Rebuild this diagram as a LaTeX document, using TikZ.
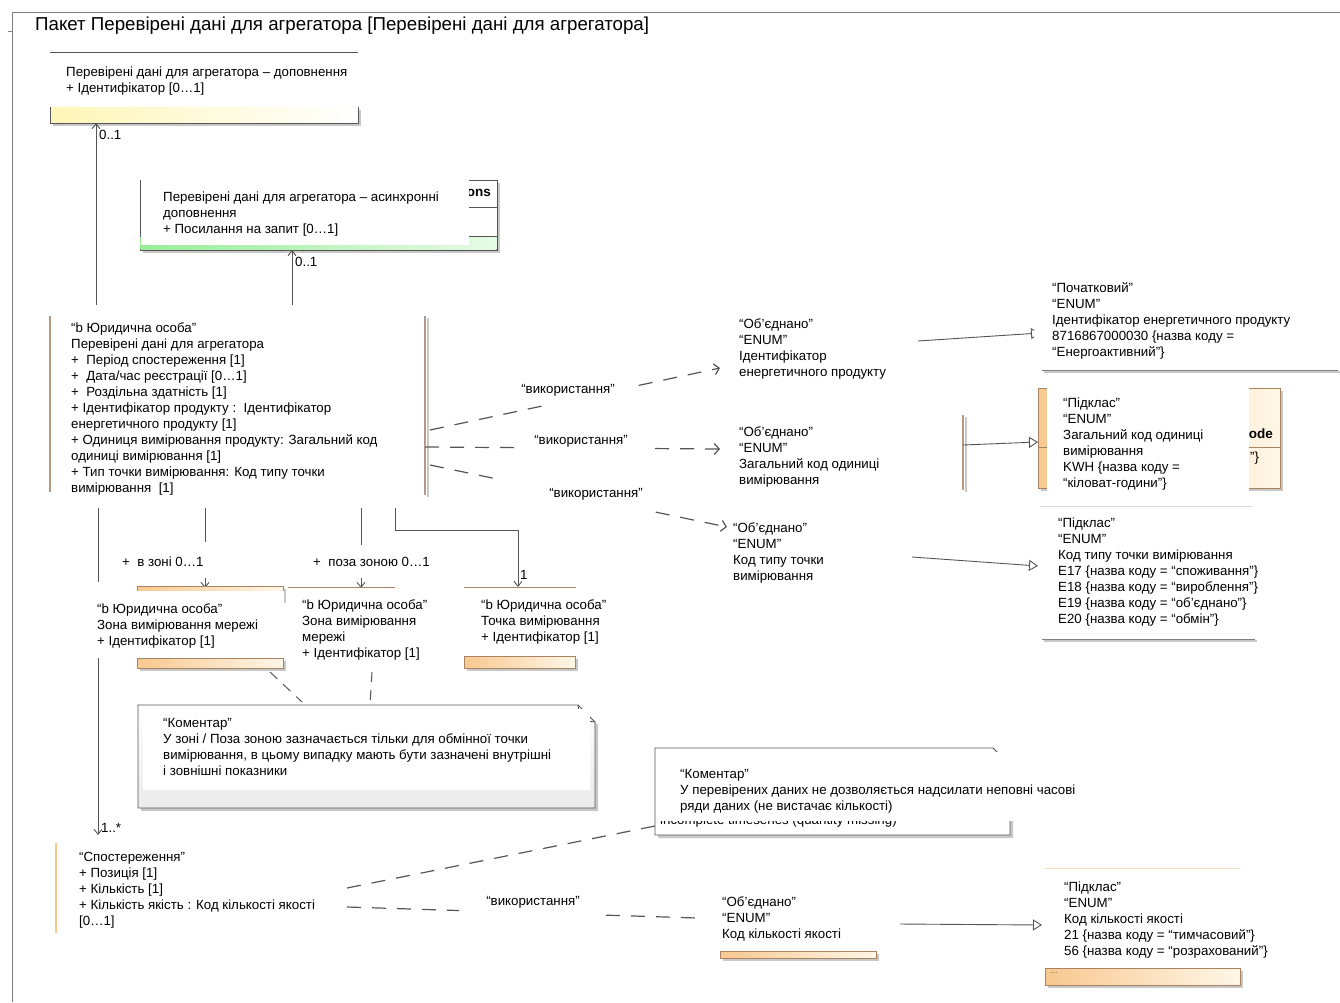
\documentclass[tikz,border=0pt]{standalone}
\usepackage{fontspec}
\setmainfont{Liberation Sans}
\usetikzlibrary{arrows.meta,calc}
\definecolor{frm}{HTML}{7F7F7F}
\definecolor{ylw}{HTML}{FFF6B8}
\definecolor{grn}{HTML}{98EE98}
\definecolor{org}{HTML}{F8C890}
\definecolor{orgl}{HTML}{FFF7E8}
\definecolor{brnc}{HTML}{B39A88}
\definecolor{obrd}{HTML}{A88462}
\definecolor{shd}{HTML}{C8C8C8}
\definecolor{lnc}{HTML}{555555}
\newcommand\bfnt{\fontsize{13.3}{16}\selectfont}
\newcommand\obar[4]{%
  \fill[shd] (#1+3,#2+3) rectangle (#3+3,#4+3);
  \fill[left color=org, right color=orgl] (#1,#2) rectangle (#3,#4);
  \draw[draw=obrd, line width=0.8pt] (#1,#2) rectangle (#3,#4);}
\tikzset{
  txt/.style={anchor=north west, inner sep=0pt, align=left, font=\bfnt},
  lbl/.style={inner sep=0pt, font=\bfnt},
  ln/.style={draw=lnc, line width=0.9pt},
  frame/.style={draw=frm, line width=1pt},
  brnline/.style={draw=brnc, line width=1.6pt},
  dep/.style={draw=lnc, line width=1.2pt, dash pattern=on 14pt off 11pt},
  usetip/.style={-{Straight Barb[length=5pt,width=11pt]}},
  navtip/.style={-{Straight Barb[length=5pt,width=8pt]}},
  gentip/.style={-{Triangle[open,length=9pt,width=11pt]}},
  comptip/.style={{Triangle[reversed,length=7pt,width=7pt]}-},
}
\begin{document}
\begin{tikzpicture}[x=1pt,y=-1pt]
\useasboundingbox (0,0) rectangle (1340,1002);
\fill[white] (0,0) rectangle (1340,1002);

% frame and title
\draw[frame] (12,1002) -- (12,12) -- (1340,12);
\draw[frame] (8,31) -- (12,31);
\node[anchor=west, inner sep=0pt, font=\fontsize{18.7}{21}\selectfont] (title) at (35,26)
  {Пакет Перевірені дані для агрегатора [Перевірені дані для агрегатора]};

% ---- box 1 (top, yellow)
\draw[ln] (50,52) -- (358,52);
\fill[shd] (53,110) rectangle (361,126);
\fill[left color=ylw, right color=white] (50,107) rectangle (358,123);
\draw[ln] (50,107) -- (50,123) -- (358,123) -- (358,107);
\node[txt] (b1) at (66,67) {Перевірені дані для агрегатора – доповнення\\+ Ідентифікатор [0…1]};
\coordinate (b1s) at (96,123);

% ---- box 2 (green)
\fill[shd] (143,183) rectangle (500,253);
\draw[ln, fill=white] (140,180) rectangle (497,250);
\fill[left color=grn, right color=grn!25!white] (140.5,236) rectangle (496.5,249.5);
\draw[ln] (140,207) -- (497,207);
\draw[ln] (140,236) -- (497,236);
\node[anchor=east, inner sep=0pt, font=\fontsize{13.5}{16}\selectfont\bfseries] (b2rest) at (491,193) {ons};
\fill[white] (141,179) rectangle (469,245);
\node[txt] (b2) at (163,192) {Перевірені дані для агрегатора – асинхронні\\доповнення\\+ Посилання на запит [0…1]};
\coordinate (b2s) at (292,250);

% ---- main box
\coordinate (m1) at (96,305);
\coordinate (m2) at (292,305);
\draw[ln, comptip, navtip] (m1) -- (b1s);
\draw[ln, comptip, navtip] (m2) -- (b2s);
\node[lbl, anchor=west] (l01a) at (99,135) {0..1};
\node[lbl, anchor=west] (l01b) at (295,262) {0..1};
\draw[brnline] (50,316) -- (50,492);
\draw[draw=shd, line width=2pt] (428,318) -- (428,497);
\draw[brnline] (425,316) -- (425,495);
\node[txt] (main) at (71,323) {“b Юридична особа"\\
Перевірені дані для агрегатора\\
+\ \ Період спостереження [1]\\
+\ \ Дата/час реєстрації [0…1]\\
+\ \ Роздільна здатність [1]\\
+ Ідентифікатор продукту :\ \ Ідентифікатор\\
енергетичного продукту [1]\\
+ Одиниця вимірювання продукту: Загальний код\\
одиниці вимірювання [1]\\
+ Тип точки вимірювання: Код типу точки\\
вимірювання\ \ [1]};

% ---- enums (middle column)
\node[txt] (ea) at (739,319) {“Об’єднано”\\“ENUM”\\Ідентифікатор\\енергетичного продукту};
\node[txt] (eb) at (739,427) {“Об’єднано”\\“ENUM”\\Загальний код одиниці\\вимірювання};
\node[txt] (ec) at (733,523) {“Об’єднано”\\“ENUM”\\Код типу точки\\вимірювання};

% ---- dependencies from main
\coordinate (d1s) at (430,430); \coordinate (d1e) at (720,368);
\draw[dep] (d1s) -- ($(d1s)!0.40!(d1e)$);
\draw[dep, usetip] ($(d1s)!0.72!(d1e)$) -- (d1e);
\node[lbl] (u1) at (568,390) {“використання”};
\coordinate (d2s) at (425,447); \coordinate (d2e) at (720,449);
\draw[dep] (d2s) -- ($(d2s)!0.31!(d2e)$);
\draw[dep, usetip] ($(d2s)!0.78!(d2e)$) -- (d2e);
\node[lbl] (u2) at (581,441) {“використання”};
\coordinate (d3s) at (430,465); \coordinate (d3e) at (727,527);
\draw[dep] (d3s) -- ($(d3s)!0.24!(d3e)$);
\draw[dep, usetip] ($(d3s)!0.76!(d3e)$) -- (d3e);
\node[lbl] (u3) at (596,494) {“використання”};

% ---- right column
\coordinate (ga) at (918,341); \coordinate (gae) at (1040,333);
\draw[ln, gentip] (ga) -- (gae);
\fill[white] (1034,276) rectangle (1338,362);
\node[txt] (pa) at (1052,282) {“Початковий”\\“ENUM”\\Ідентифікатор енергетичного продукту\\8716867000030 \{назва коду =\\“Енергоактивний”\}};
\draw[draw=shd, line width=1.2pt] (1044,372) -- (1340,372);
\draw[draw=frm, line width=1pt] (1042,370) -- (1338,370);

% KWH box
\draw[draw=shd, line width=2pt] (966,417) -- (966,492);
\draw[brnline] (963,415) -- (963,490);
\fill[shd] (1041,391) rectangle (1283,491);
\fill[left color=org, right color=orgl] (1038,388) rectangle (1280,488);
\draw[draw=obrd, line width=0.9pt] (1038,388) rectangle (1280,488);
\draw[draw=obrd, line width=0.9pt] (1038,447) -- (1280,447);
\node[anchor=east, inner sep=0pt, font=\fontsize{13.5}{16}\selectfont\bfseries] (kwrest) at (1273,434) {ode};
\node[anchor=west, inner sep=0pt, font=\bfnt] (kwrest2) at (1250,458) {"\}};
\fill[white] (1047,380) rectangle (1249,497);
\coordinate (gb) at (963,445); \coordinate (gbe) at (1038,442);
\draw[ln, gentip] (gb) -- (gbe);
\node[txt] (pb) at (1063,398) {“Підклас”\\“ENUM”\\Загальний код одиниці\\вимірювання\\KWH \{назва коду =\\“кіловат-години”\}};

% E17 box
\draw[draw=black!15, line width=1pt] (1040,506) -- (1253,506);
\coordinate (gc) at (912,557); \coordinate (gce) at (1038,566);
\draw[ln, gentip] (gc) -- (gce);
\node[txt] (pc) at (1058,518) {“Підклас”\\“ENUM”\\Код типу точки вимірювання\\E17 \{назва коду = “споживання”\}\\E18 \{назва коду = “вироблення”\}\\E19 \{назва коду = “об’єднано”\}\\E20 \{назва коду = “обмін”\}};
\draw[draw=shd, line width=1.2pt] (1044,641) -- (1257,641);
\draw[draw=frm, line width=1pt] (1042,639) -- (1255,639);

% ---- lower associations
\coordinate (z1s) at (205,508); \coordinate (z1m) at (205,542);
\coordinate (z1a) at (205,578); \coordinate (z1e) at (205,588);
\draw[ln] (z1s) -- (z1m);
\draw[ln, navtip] (z1a) -- (z1e);
\node[lbl, anchor=west] (lz1) at (122,562) {+\ \ в зоні 0…1};
\coordinate (z2s) at (361,508); \coordinate (z2m) at (361,545);
\coordinate (z2a) at (361,578); \coordinate (z2e) at (361,588);
\draw[ln] (z2s) -- (z2m);
\draw[ln, navtip] (z2a) -- (z2e);
\node[lbl, anchor=west] (lz2) at (313,562) {+\ \ поза зоною 0…1};
\coordinate (z3s) at (395,508); \coordinate (z3e) at (518,587);
\draw[ln, navtip] (z3s) -- (395,530) -- (518,530) -- (z3e);
\node[lbl, anchor=west] (lz3) at (520,575) {1};

% zone boxes
\obar{137}{586}{283}{600}
\obar{137}{658}{283}{668}
\fill[white] (93,591) rectangle (284,658);
\node[txt] (zb1) at (97,604) {“b Юридична особа"\\Зона вимірювання мережі\\+ Ідентифікатор [1]};
\draw[draw=obrd, line width=0.9pt] (288,587) -- (395,587);
\node[txt] (zb2) at (302,600) {“b Юридична особа"\\Зона вимірювання\\мережі\\+ Ідентифікатор [1]};
\draw[draw=obrd, line width=0.9pt] (464,587) -- (576,587);
\obar{464}{656}{575}{668}
\node[txt] (zb3) at (481,600) {“b Юридична особа"\\Точка вимірювання\\+ Ідентифікатор [1]};

% comment 1
\coordinate (n1a) at (270,672); \coordinate (n1ae) at (302,702);
\coordinate (n1b) at (372,672); \coordinate (n1be) at (370,705);
\draw[dep, line width=1pt, dash pattern=on 10pt off 8pt] (n1a) -- (n1ae);
\draw[dep, line width=1pt, dash pattern=on 10pt off 8pt] (n1b) -- (n1be);
\fill[shd] (141,708) -- (581,708) -- (598,725) -- (598,811) -- (141,811) -- cycle;
\shade[top color=white, bottom color=black!8, draw=lnc, line width=0.9pt] (138,705) -- (578,705) -- (595,722) -- (595,808) -- (138,808) -- cycle;
\draw[ln] (578,705) -- (580,720) -- (595,722);
\fill[white] (143,709) rectangle (590,790);
\node[txt] (c1) at (163,718) {“Коментар”\\У зоні / Поза зоною зазначається тільки для обмінної точки\\вимірювання, в цьому випадку мають бути зазначені внутрішні\\і зовнішні показники};

% ---- observation
\coordinate (o1s) at (98,508); \coordinate (o1m) at (98,582);
\coordinate (o1a) at (98,658); \coordinate (o1e) at (98,835);
\draw[ln] (o1s) -- (o1m);
\draw[ln, navtip] (o1a) -- (o1e);
\node[lbl, anchor=west] (l1n) at (101,828) {1..*};
\draw[draw=org, line width=2pt] (56,843) -- (56,933);
\node[txt] (obs) at (79,852) {“Спостереження”\\+ Позиція [1]\\+ Кількість [1]\\+ Кількість якість : Код кількості якості\\{}[0…1]};

% comment 2
\coordinate (n2s) at (347,888); \coordinate (n2e) at (655,826);
\draw[dep] (n2s) -- (n2e);
\fill[shd] (658,751) -- (996,751) -- (1013,768) -- (1013,838) -- (658,838) -- cycle;
\draw[ln, fill=white] (655,748) -- (993,748) -- (1010,765) -- (1010,835) -- (655,835) -- cycle;
\node[anchor=west, inner sep=0pt, font=\bfnt] (c2rest) at (660,821) {incomplete timeseries (quantity missing)};
\fill[white] (658,752) rectangle (1075,821);
\node[txt] (c2) at (680,769) {“Коментар”\\У перевірених даних не дозволяється надсилати неповні часові\\ряди даних (не вистачає кількості)};

% quality enum
\coordinate (d4s) at (347,907); \coordinate (d4e) at (697,918);
\draw[dep] (d4s) -- ($(d4s)!0.32!(d4e)$);
\draw[dep] ($(d4s)!0.74!(d4e)$) -- (d4e);
\node[lbl] (u4) at (533,902) {“використання”};
\node[txt] (eq) at (722,897) {“Об’єднано”\\“ENUM”\\Код кількості якості};
\obar{720}{951}{876}{958}
\coordinate (gq) at (900,924); \coordinate (gqe) at (1042,925);
\draw[ln, gentip] (gq) -- (gqe);
\draw[draw=org!60, line width=1pt] (1045,868) -- (1240,868);
\node[txt] (pq) at (1064,882) {“Підклас”\\“ENUM”\\Код кількості якості\\21 \{назва коду = “тимчасовий”\}\\56 \{назва коду = “розрахований”\}};
\obar{1045}{968}{1240}{985}
\node[anchor=west, inner sep=0pt, font=\fontsize{9}{10}\selectfont, text=black!60] (dots) at (1050,973) {...};
\end{tikzpicture}
\end{document}
